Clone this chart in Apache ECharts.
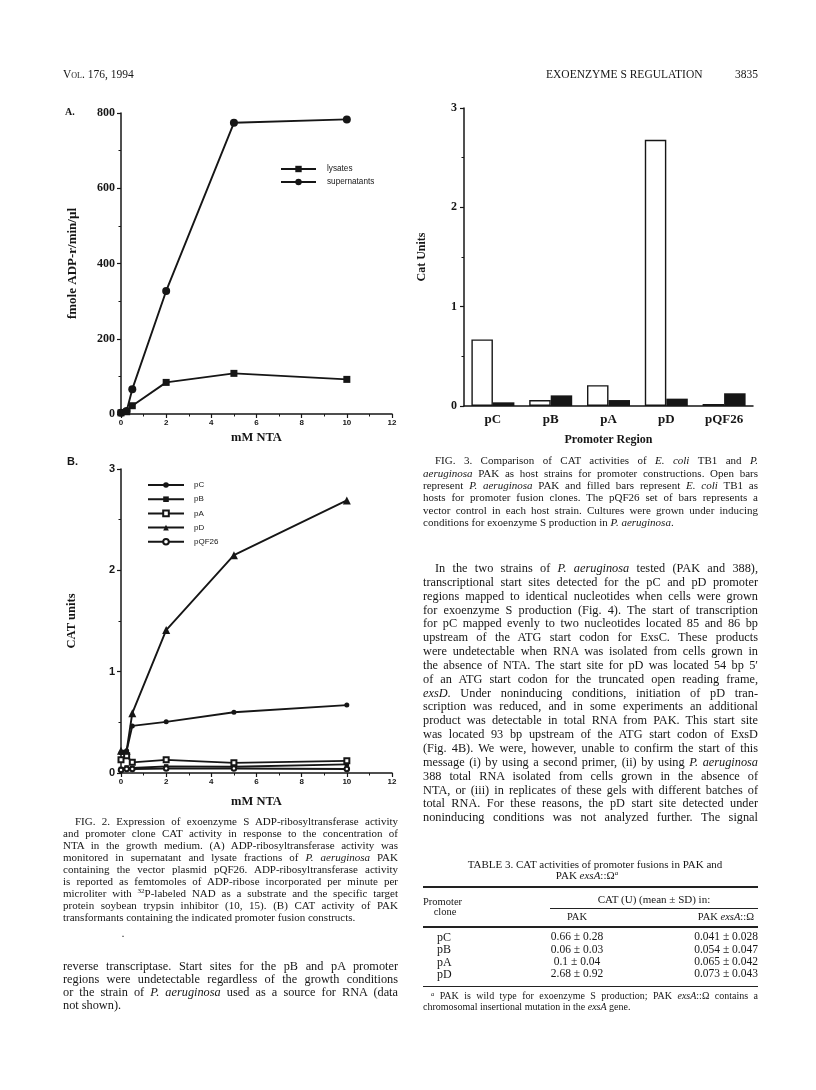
<!DOCTYPE html>
<html><head><meta charset="utf-8">
<script src="https://cdn.jsdelivr.net/npm/echarts/dist/echarts.min.js"></script>
<style>
html,body{margin:0;padding:0;background:#fff;}
#page{position:relative;width:816px;height:1090px;overflow:hidden;background:#fff;}
#chart{position:absolute;left:0;top:0;width:816px;height:1090px;}
.t{position:absolute;font-family:'Liberation Serif','Times New Roman',serif;color:#161616;white-space:nowrap;line-height:1;}
.rule{position:absolute;background:#222;}
</style></head>
<body><div id="page"><div id="chart"></div></div>
<script>
// ---- data ----
const nta = [0, 0.25, 0.5, 2, 5, 10];
const lysates = [3, 6, 22, 84, 108, 92];
const supernatants = [3, 8, 66, 327, 774, 783];
const pC = [0.2, 0.22, 0.465, 0.505, 0.6, 0.67];
const pB = [0.04, 0.055, 0.05, 0.065, 0.062, 0.085];
const pA = [0.13, 0.17, 0.105, 0.13, 0.1, 0.12];
const pD = [0.22, 0.22, 0.59, 1.41, 2.15, 2.69];
const pQF26 = [0.03, 0.04, 0.04, 0.045, 0.045, 0.04];
const promoters = ['pC', 'pB', 'pA', 'pD', 'pQF26'];
const pakHost = [0.67, 0.06, 0.21, 2.68, 0.02];
const ecoliHost = [0.037, 0.107, 0.06, 0.074, 0.128];

const pair = (xs, ys) => xs.map((x, i) => [x, ys[i]]);
const INK = '#161616';
const SERIF = "'Liberation Serif','Times New Roman',serif";
const SANS = "'Liberation Sans',Arial,sans-serif";

function valAxis(extra) {
  return Object.assign({
    type: 'value',
    axisLine: {show: true, onZero: false, lineStyle: {color: INK, width: 1.5}},
    axisTick: {show: true, inside: false, length: 4, lineStyle: {color: INK, width: 1.2}},
    minorTick: {show: true, splitNumber: 2, length: 2.5, lineStyle: {color: INK, width: 1}},
    splitLine: {show: false},
    nameLocation: 'middle'
  }, extra);
}

const chart = echarts.init(document.getElementById('chart'), null, {renderer: 'canvas'});
const lineBase = {type: 'line', lineStyle: {color: INK, width: 1.9}, itemStyle: {color: INK}, color: INK, animation: false};

chart.setOption({
  animation: false,
  backgroundColor: '#fff',
  grid: [
    {left: 121, top: 113, width: 271, height: 301},
    {left: 121, top: 469, width: 271, height: 304},
    {left: 464, top: 108, width: 289, height: 298}
  ],
  xAxis: [
    valAxis({gridIndex: 0, min: 0, max: 12, interval: 2,
      axisLabel: {fontFamily: SANS, fontWeight: 'bold', fontSize: 8, color: INK, margin: 5},
      name: 'mM NTA', nameGap: 17, nameTextStyle: {fontFamily: SERIF, fontWeight: 'bold', fontSize: 12.5, color: INK}}),
    valAxis({gridIndex: 1, min: 0, max: 12, interval: 2,
      axisLabel: {fontFamily: SANS, fontWeight: 'bold', fontSize: 8, color: INK, margin: 5},
      name: 'mM NTA', nameGap: 22, nameTextStyle: {fontFamily: SERIF, fontWeight: 'bold', fontSize: 12.5, color: INK}}),
    {type: 'category', gridIndex: 2, data: promoters,
      axisLine: {lineStyle: {color: INK, width: 1.5}}, axisTick: {show: false},
      axisLabel: {fontFamily: SERIF, fontWeight: 'bold', fontSize: 13, color: INK, margin: 7},
      name: 'Promoter Region', nameLocation: 'middle', nameGap: 28,
      nameTextStyle: {fontFamily: SERIF, fontWeight: 'bold', fontSize: 12, color: INK}}
  ],
  yAxis: [
    valAxis({gridIndex: 0, min: 0, max: 800, interval: 200,
      axisLabel: {fontFamily: SERIF, fontWeight: 'bold', fontSize: 12, color: INK, margin: 6},
      name: 'fmole ADP-r/min/µl', nameGap: 42, nameRotate: 90,
      nameTextStyle: {fontFamily: SERIF, fontWeight: 'bold', fontSize: 13, color: INK}}),
    valAxis({gridIndex: 1, min: 0, max: 3, interval: 1,
      axisLabel: {fontFamily: SANS, fontWeight: 'bold', fontSize: 11, color: INK, margin: 6},
      name: 'CAT units', nameGap: 43, nameRotate: 90,
      nameTextStyle: {fontFamily: SERIF, fontWeight: 'bold', fontSize: 12.5, color: INK}}),
    valAxis({gridIndex: 2, min: 0, max: 3, interval: 1,
      axisLabel: {fontFamily: SERIF, fontWeight: 'bold', fontSize: 12, color: INK, margin: 7},
      name: 'Cat Units', nameGap: 36, nameRotate: 90,
      nameTextStyle: {fontFamily: SERIF, fontWeight: 'bold', fontSize: 12, color: INK}})
  ],
  legend: [
    {data: ['lysates', 'supernatants'], orient: 'vertical', left: 275, top: 160,
      itemWidth: 35, itemHeight: 8, itemGap: 5, selectedMode: false,
      textStyle: {fontFamily: SANS, fontSize: 8.2, color: INK, padding: [0, 0, 0, 6]}},
    {data: ['pC', 'pB', 'pA', 'pD', 'pQF26'], orient: 'vertical', left: 142, top: 476,
      itemWidth: 36, itemHeight: 7, itemGap: 6.2, selectedMode: false,
      textStyle: {fontFamily: SANS, fontSize: 8, color: INK, padding: [0, 0, 0, 5]}}
  ],
  series: [
    Object.assign({}, lineBase, {name: 'lysates', xAxisIndex: 0, yAxisIndex: 0, data: pair(nta, lysates), symbol: 'rect', symbolSize: 7}),
    Object.assign({}, lineBase, {name: 'supernatants', xAxisIndex: 0, yAxisIndex: 0, data: pair(nta, supernatants), symbol: 'circle', symbolSize: 8}),
    Object.assign({}, lineBase, {name: 'pC', xAxisIndex: 1, yAxisIndex: 1, data: pair(nta, pC), symbol: 'circle', symbolSize: 5}),
    Object.assign({}, lineBase, {name: 'pB', xAxisIndex: 1, yAxisIndex: 1, data: pair(nta, pB), symbol: 'rect', symbolSize: 4.5}),
    Object.assign({}, lineBase, {name: 'pA', xAxisIndex: 1, yAxisIndex: 1, data: pair(nta, pA), symbol: 'emptyRect', symbolSize: 5,
      itemStyle: {color: INK, borderColor: INK, borderWidth: 1.2}}),
    Object.assign({}, lineBase, {name: 'pD', xAxisIndex: 1, yAxisIndex: 1, data: pair(nta, pD), symbol: 'triangle', symbolSize: 8}),
    Object.assign({}, lineBase, {name: 'pQF26', xAxisIndex: 1, yAxisIndex: 1, data: pair(nta, pQF26), symbol: 'emptyCircle', symbolSize: 4.5,
      itemStyle: {color: INK, borderColor: INK, borderWidth: 1.2}}),
    {type: 'bar', name: 'P. aeruginosa PAK', xAxisIndex: 2, yAxisIndex: 2, data: pakHost, barWidth: 21.5, barGap: '0%',
      itemStyle: {color: '#fff', borderColor: INK, borderWidth: 1.4}},
    {type: 'bar', name: 'E. coli TB1', xAxisIndex: 2, yAxisIndex: 2, data: ecoliHost, barWidth: 21.5, barGap: '0%',
      itemStyle: {color: INK}}
  ]
});

// ---- page text ----
const page = document.getElementById('page');
function L(x, cy, fs, html, opts) {
  opts = opts || {};
  const d = document.createElement('div');
  d.className = 't';
  d.innerHTML = html;
  d.style.fontSize = fs + 'px';
  d.style.top = (cy - 0.57 * fs) + 'px';
  if (opts.bold) d.style.fontWeight = 'bold';
  if (opts.sans) d.style.fontFamily = SANS;
  page.appendChild(d);
  const w0 = d.getBoundingClientRect().width;
  if (opts.align === 'center') d.style.left = (x - w0 / 2) + 'px';
  else if (opts.align === 'right') d.style.left = (x - w0) + 'px';
  else d.style.left = x + 'px';
  if (opts.w) {
    const spaces = (d.textContent.match(/ /g) || []).length;
    if (spaces) d.style.wordSpacing = ((opts.w - w0) / spaces) + 'px';
  }
  return d;
}
function R(x, y, w, h) {
  const r = document.createElement('div');
  r.className = 'rule';
  r.style.left = x + 'px'; r.style.top = y + 'px'; r.style.width = w + 'px'; r.style.height = h + 'px';
  page.appendChild(r);
}
function para(x, w, indent, cy0, step, fs, lines, lastJustified) {
  lines.forEach((s, i) => {
    const xi = i === 0 ? x + indent : x;
    const wi = i === 0 ? w - indent : w;
    const just = i < lines.length - 1 || lastJustified;
    L(xi, cy0 + i * step, fs, s, just ? {w: wi} : {});
  });
}

// running head
L(63, 76, 11.5, '<span style="font-variant:small-caps">Vol.</span> 176, 1994');
L(546, 76, 11.5, 'EXOENZYME S REGULATION');
L(758, 76, 11.5, '3835', {align: 'right'});

// panel letters
L(65, 113, 10, 'A.', {bold: true});
L(67, 462, 11, 'B.', {bold: true, sans: true});

// Fig. 2 caption
para(63, 335, 12, 822, 12, 11, [
  'FIG. 2. Expression of exoenzyme S ADP-ribosyltransferase activity',
  'and promoter clone CAT activity in response to the concentration of',
  'NTA in the growth medium. (A) ADP-ribosyltransferase activity was',
  'monitored in supernatant and lysate fractions of <i>P. aeruginosa</i> PAK',
  'containing the vector plasmid pQF26. ADP-ribosyltransferase activity',
  'is reported as femtomoles of ADP-ribose incorporated per minute per',
  'microliter with <sup style="font-size:7px;vertical-align:4px">32</sup>P-labeled NAD as a substrate and the specific target',
  'protein soybean trypsin inhibitor (10, 15). (B) CAT activity of PAK',
  'transformants containing the indicated promoter fusion constructs.'
], false);
L(122, 936, 8, '.', {bold: true});

// left body
para(63, 335, 0, 966.7, 13.1, 12.3, [
  'reverse transcriptase. Start sites for the pB and pA promoter',
  'regions were undetectable regardless of the growth conditions',
  'or the strain of <i>P. aeruginosa</i> used as a source for RNA (data',
  'not shown).'
], false);

// Fig. 3 caption
para(423, 335, 12, 461.7, 12.3, 11, [
  'FIG. 3. Comparison of CAT activities of <i>E. coli</i> TB1 and <i>P.</i>',
  '<i>aeruginosa</i> PAK as host strains for promoter constructions. Open bars',
  'represent <i>P. aeruginosa</i> PAK and filled bars represent <i>E. coli</i> TB1 as',
  'hosts for promoter fusion clones. The pQF26 set of bars represents a',
  'vector control in each host strain. Cultures were grown under inducing',
  'conditions for exoenzyme S production in <i>P. aeruginosa</i>.'
], false);

// right body
para(423, 335, 12, 569, 13.85, 12.3, [
  'In the two strains of <i>P. aeruginosa</i> tested (PAK and 388),',
  'transcriptional start sites detected for the pC and pD promoter',
  'regions mapped to identical nucleotides when cells were grown',
  'for exoenzyme S production (Fig. 4). The start of transcription',
  'for pC mapped evenly to two nucleotides located 85 and 86 bp',
  'upstream of the ATG start codon for ExsC. These products',
  'were undetectable when RNA was isolated from cells grown in',
  'the absence of NTA. The start site for pD was located 54 bp 5′',
  'of an ATG start codon for the truncated open reading frame,',
  '<i>exsD</i>. Under noninducing conditions, initiation of pD tran-',
  'scription was reduced, and in some experiments an additional',
  'product was detectable in total RNA from PAK. This start site',
  'was located 93 bp upstream of the ATG start codon of ExsD',
  '(Fig. 4B). We were, however, unable to confirm the start of this',
  'message (i) by using a second primer, (ii) by using <i>P. aeruginosa</i>',
  '388 total RNA isolated from cells grown in the absence of',
  'NTA, or (iii) in replicates of these gels with different batches of',
  'total RNA. For these reasons, the pD start site detected under',
  'noninducing conditions was not analyzed further. The signal'
], true);

// Table 3
L(595, 865, 11, 'TABLE 3. CAT activities of promoter fusions in PAK and', {align: 'center'});
L(587, 876, 11, 'PAK <i>exsA</i>::Ω<sup style="font-size:7px;vertical-align:4px"><i>a</i></sup>', {align: 'center'});
R(423, 886, 335, 1.6);
L(423, 903, 10.5, 'Promoter');
L(445, 913, 10.5, 'clone', {align: 'center'});
L(654, 900, 11, 'CAT (U) (mean ± SD) in:', {align: 'center'});
R(550, 908, 208, 1);
L(577, 918, 10.5, 'PAK', {align: 'center'});
L(754, 918, 10.5, 'PAK <i>exsA</i>::Ω', {align: 'right'});
R(423, 926, 335, 1.6);
const rowsLab = ['pC', 'pB', 'pA', 'pD'];
const rowsPak = ['0.66 ± 0.28', '0.06 ± 0.03', '0.1 ± 0.04', '2.68 ± 0.92'];
const rowsMut = ['0.041 ± 0.028', '0.054 ± 0.047', '0.065 ± 0.042', '0.073 ± 0.043'];
rowsLab.forEach((s, i) => {
  const cy = 938 + i * 12.2;
  L(437, cy, 12, s);
  L(577, cy, 11.5, rowsPak[i], {align: 'center'});
  L(758, cy, 11.5, rowsMut[i], {align: 'right'});
});
R(423, 986, 335, 1.2);
L(431, 997, 10, '<sup style="font-size:6.5px;vertical-align:3px"><i>a</i></sup> PAK is wild type for exoenzyme S production; PAK <i>exsA</i>::Ω contains a', {w: 327});
L(423, 1008, 10, 'chromosomal insertional mutation in the <i>exsA</i> gene.');
</script>
</body></html>
